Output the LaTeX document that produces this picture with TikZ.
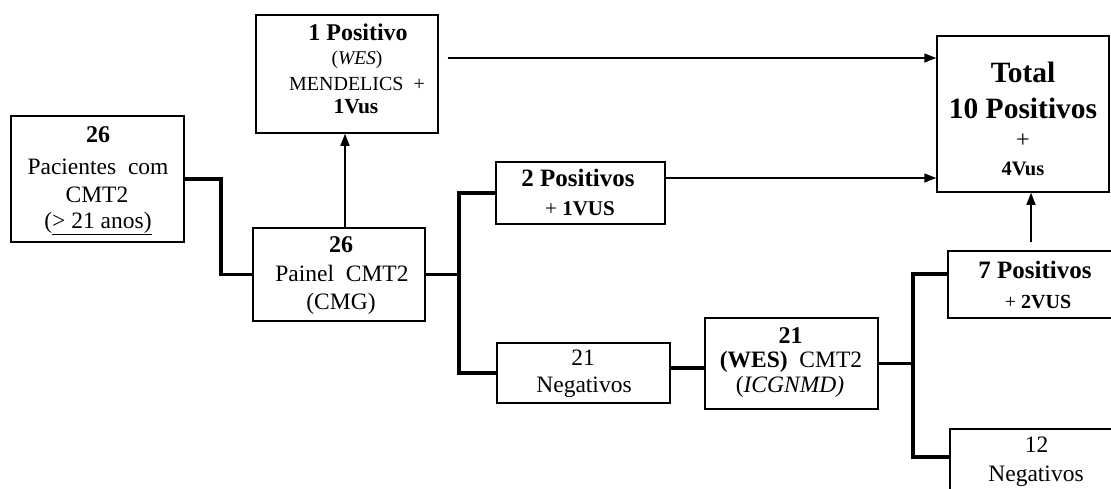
\documentclass[tikz,border=0pt]{standalone}
\usepackage{fontspec}
\setmainfont{Liberation Serif}
\usetikzlibrary{arrows.meta}
\newcommand\myfs[1]{\fontsize{#1}{#1}\selectfont}

\begin{document}
\begin{tikzpicture}[x=1pt,y=-1pt,
  box/.style={draw, line width=1.5pt, inner sep=0pt},
  t/.style={anchor=base, inner sep=0pt, font=\myfs{23.5}},
  link/.style={line width=3.2pt},
  arr/.style={line width=1.5pt, -{Triangle[length=12pt,width=9pt]}},
]
\useasboundingbox (0,0) rectangle (1111,488);
\clip (0,0) rectangle (1111,488);

% boxes
\node[box, minimum width=173pt, minimum height=126pt] (pac)    at (97.5,179)  {};
\node[box, minimum width=182pt, minimum height=118pt] (top)    at (347,74)    {};
\node[box, minimum width=172pt, minimum height=93pt]  (painel) at (339,274.5) {};
\node[box, minimum width=169pt, minimum height=62pt]  (pos2)   at (580.5,193) {};
\node[box, minimum width=173pt, minimum height=60pt]  (neg21)  at (583.5,373) {};
\node[box, minimum width=173pt, minimum height=91pt]  (wes)    at (791.5,363.5) {};
\node[box, minimum width=172pt, minimum height=156pt] (total)  at (1023,114)  {};
\node[box, minimum width=170pt, minimum height=67pt]  (pos7)   at (1033,284.5) {};
\node[box, minimum width=170pt, minimum height=81pt]  (neg12)  at (1035,469.5) {};

% texts
\node[t, font=\myfs{24}\bfseries] (pac1) at (98,142) {26};
\node[t] (pac2) at (98,174) {Pacientes\ \ com};
\node[t] (pac3) at (97,202) {CMT2};
\node[t] (pac4) at (98,228) {(\underline{> 21 anos)}};

\node[t, font=\myfs{24}\bfseries] (top1) at (358,40) {1 Positivo};
\node[t, font=\myfs{19.5}] (top2) at (357,64) {(\textit{WES})};
\node[t, font=\myfs{20}] (top3) at (357,90) {MENDELICS\ \ +};
\node[t, font=\myfs{21.5}\bfseries] (top4) at (356,113) {1Vus};

\node[t, font=\myfs{24}\bfseries] (pai1) at (341,252) {26};
\node[t] (pai2) at (342,281) {Painel\ \ CMT2};
\node[t] (pai3) at (341,309) {(CMG)};

\node[t, font=\myfs{25}\bfseries] (p2a) at (578,186) {2 Positivos};
\node[t, font=\myfs{21}] (p2b) at (580,215) {+ \textbf{1VUS}};

\node[t] (n21a) at (583,365) {21};
\node[t] (n21b) at (584,392) {Negativos};

\node[t, font=\myfs{24}\bfseries] (w1) at (790.5,343) {21};
\node[t] (w2) at (791,367) {\textbf{(WES)}\ \ CMT2};
\node[t] (w3) at (790,392) {(\textit{ICGNMD)}};

\node[t, font=\myfs{29.5}\bfseries] (tot1) at (1023,82) {Total};
\node[t, font=\myfs{29.5}\bfseries] (tot2) at (1023,118) {10 Positivos};
\node[t, font=\myfs{24}] (tot3) at (1023,147) {+};
\node[t, font=\myfs{20.5}\bfseries] (tot4) at (1023,175) {4Vus};

\node[t, font=\myfs{25}\bfseries] (p7a) at (1035,278) {7 Positivos};
\node[t, font=\myfs{20}] (p7b) at (1038,308) {+ \textbf{2VUS}};

\node[t] (n12a) at (1036.5,452) {12};
\node[t] (n12b) at (1036,481) {Negativos};

% junction columns and connector levels
\coordinate (j1) at (221,0);
\coordinate (j2) at (459,0);
\coordinate (l3) at (0,368);
\coordinate (b7) at (913,274);
\coordinate (b12) at (913,457);
\coordinate (a1) at (345,0);
\coordinate (a2) at (0,58);
\coordinate (a3) at (0,178);
\coordinate (a4) at (1031,0);

% bracket connectors
\draw[link] (pac.east) -| (j1 |- painel.west) -- (painel.west);
\draw[link] (painel.east) -- (j2 |- painel.east);
\draw[link] (pos2.west) -| (j2 |- neg21.west) -- (neg21.west);
\draw[link] (neg21.east |- l3) -- (wes.west |- l3);
\draw[link] (wes.east) -- (b7 |- wes.east);
\draw[link] (pos7.west |- b7) -- (b7) -- (b12) -- (neg12.west |- b12);

% arrows
\draw[arr] (painel.north -| a1) -- (top.south -| a1);
\draw[arr] ([xshift=9pt]top.east |- a2) -- (total.west |- a2);
\draw[arr] (pos2.east |- a3) -- (total.west |- a3);
\draw[arr] ([yshift=8pt]pos7.north -| a4) -- (total.south -| a4);
\end{tikzpicture}
\end{document}
